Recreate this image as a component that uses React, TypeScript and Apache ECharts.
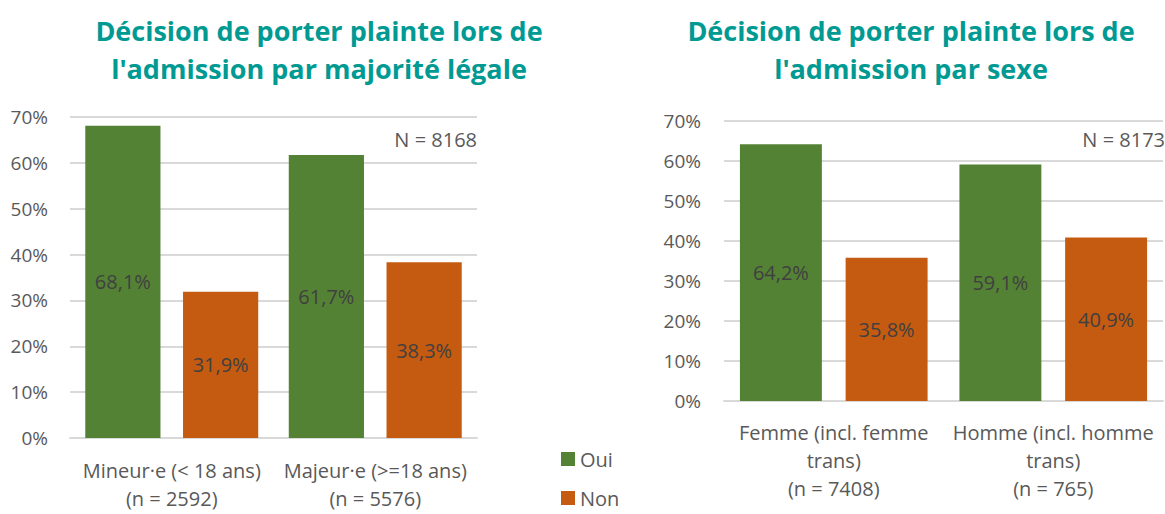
import React, { useEffect, useRef } from "react";
import * as echarts from "echarts";

const seriesNames = ["Oui", "Non"];
const catsAge = ["Mineur·e (< 18 ans)\n(n = 2592)", "Majeur·e (>=18 ans)\n(n = 5576)"];
const ouiAge = [68.1, 61.7];
const nonAge = [31.9, 38.3];
const catsSexe = ["Femme (incl. femme\ntrans)\n(n = 7408)", "Homme (incl. homme\ntrans)\n(n = 765)"];
const ouiSexe = [64.2, 59.1];
const nonSexe = [35.8, 40.9];
const titleAge = "Décision de porter plainte lors de\nl'admission par majorité légale";
const titleSexe = "Décision de porter plainte lors de\nl'admission par sexe";
const nAge = "N = 8168";
const nSexe = "N = 8173";

const GREEN = "#548235";
const ORANGE = "#C55A11";
const TEAL = "#009A93";
const FONT = "'Open Sans', 'Noto Sans', sans-serif";
const GRAY = "#595959";

export default function App() {
  const ref = useRef<HTMLDivElement>(null);
  useEffect(() => {
    if (!ref.current) return;
    const chart = echarts.init(ref.current, null, { renderer: "svg" });
    const fmt = (p: any) => String(p.value).replace(".", ",") + "%";
    const mkY = (gi: number, margin: number) => ({
      type: "value",
      gridIndex: gi,
      min: 0,
      max: 70,
      interval: 10,
      axisLabel: { formatter: "{value}%", fontSize: 19, color: GRAY, fontFamily: FONT, margin },
      axisLine: { show: false },
      axisTick: { show: false },
      splitLine: { lineStyle: { color: "#D9D9D9", width: 2 } },
    });
    const mkX = (gi: number, data: string[], margin: number) => ({
      type: "category",
      gridIndex: gi,
      data,
      axisLine: { lineStyle: { color: "#D9D9D9", width: 2 } },
      axisTick: { show: false },
      axisLabel: { fontSize: 20, color: GRAY, fontFamily: FONT, lineHeight: 28, margin, interval: 0 },
    });
    const mkS = (name: string, data: number[], color: string, xi: number, barGap: string, barCat: string) => ({
      type: "bar",
      name,
      xAxisIndex: xi,
      yAxisIndex: xi,
      data,
      barGap,
      barCategoryGap: barCat,
      itemStyle: { color },
      label: { show: true, position: "inside", formatter: fmt, fontSize: 20, color: "#404040", fontFamily: FONT },
    });
    const titleStyle = { fontSize: 27, fontWeight: "bold", color: TEAL, fontFamily: FONT, lineHeight: 38 };
    chart.setOption({
      animation: false,
      textStyle: { fontFamily: FONT },
      title: [
        { text: titleAge, left: 314, top: 6, textAlign: "center", textStyle: titleStyle },
        { text: titleSexe, left: 906, top: 6, textAlign: "center", textStyle: titleStyle },
      ],
      legend: {
        data: seriesNames,
        orient: "vertical",
        left: 556,
        top: 444,
        height: 120,
        itemWidth: 14,
        itemHeight: 14,
        itemGap: 19,
        icon: "rect",
        textStyle: { fontSize: 20, color: GRAY, fontFamily: FONT },
      },
      grid: [
        { left: 70, right: 688, top: 117, bottom: 76 },
        { left: 724, right: 2, top: 121, bottom: 113 },
      ],
      xAxis: [mkX(0, catsAge, 18), mkX(1, catsSexe, 17)],
      yAxis: [mkY(0, 22), mkY(1, 23)],
      series: [
        mkS("Oui", ouiAge, GREEN, 0, "30%", "15%"),
        mkS("Non", nonAge, ORANGE, 0, "30%", "15%"),
        mkS("Oui", ouiSexe, GREEN, 1, "29%", "14.5%"),
        mkS("Non", nonSexe, ORANGE, 1, "29%", "14.5%"),
      ],
      graphic: [
        {
          type: "text",
          right: 1165 - 477,
          top: 129,
          style: { text: nAge, fontSize: 20, fill: GRAY, fontFamily: FONT },
        },
        {
          type: "text",
          right: 0,
          top: 129,
          style: { text: nSexe, fontSize: 20, fill: GRAY, fontFamily: FONT },
        },
      ],
    });
    return () => chart.dispose();
  }, []);
  return (
    <div
      ref={ref}
      style={{ position: "fixed", left: 0, top: 0, width: 1165, height: 514, background: "#fff" }}
    />
  );
}
